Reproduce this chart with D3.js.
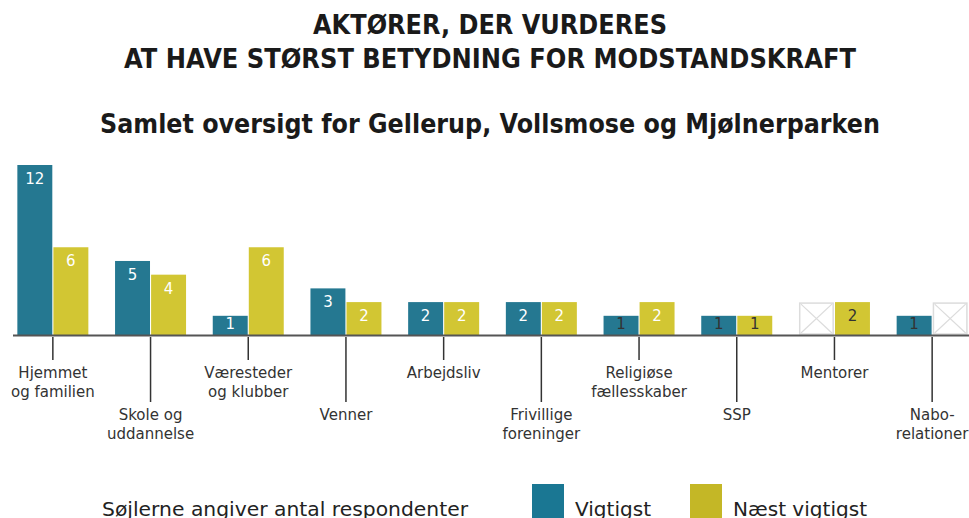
<!DOCTYPE html>
<html>
<head>
<meta charset="utf-8">
<script src="https://cdn.jsdelivr.net/npm/d3@7"></script>
<style>
  body { margin: 0; background: #fff; }
  svg { display: block; font-family: "DejaVu Sans", Verdana, sans-serif; }
</style>
</head>
<body>
<div id="chart"></div>
<script>
// Aktører, der vurderes at have størst betydning for modstandskraft

var categories = ["Hjemmet og familien", "Skole og uddannelse", "Væresteder og klubber", "Venner",
  "Arbejdsliv", "Frivillige foreninger", "Religiøse fællesskaber", "SSP", "Mentorer", "Nabo-relationer"];
// label lines under each tick
var labelLines = [["Hjemmet", "og familien"], ["Skole og", "uddannelse"], ["Væresteder", "og klubber"], ["Venner"],
  ["Arbejdsliv"], ["Frivillige", "foreninger"], ["Religiøse", "fællesskaber"], ["SSP"], ["Mentorer"], ["Nabo-", "relationer"]];
var seriesNames = ["Vigtigst", "Næst vigtigst"];
var vigtigst = [12, 5, 1, 3, 2, 2, 1, 1, 0, 1];
var naestVigtigst = [6, 4, 6, 2, 2, 2, 2, 1, 2, 0];

var colors = { "Vigtigst": "#257891", "Næst vigtigst": "#d2c633" };
// value labels drawn in dark text (category index + series)
var darkLabels = ["6|Vigtigst", "7|Vigtigst", "7|Næst vigtigst", "8|Næst vigtigst", "9|Vigtigst"];

var width = 969, height = 518;
var baseline = 335;

var svg = d3.select("#chart").append("svg")
  .attr("width", width)
  .attr("height", height);

// titles
var title = svg.append("g").attr("class", "title")
  .style("font-weight", "bold")
  .style("fill", "#1a1a1a")
  .attr("text-anchor", "middle");
title.append("text").attr("x", 490).attr("y", 34)
  .style("font-size", "26px")
  .attr("textLength", 354).attr("lengthAdjust", "spacingAndGlyphs")
  .text("AKTØRER, DER VURDERES");
title.append("text").attr("x", 490).attr("y", 68)
  .style("font-size", "26px")
  .attr("textLength", 732).attr("lengthAdjust", "spacingAndGlyphs")
  .text("AT HAVE STØRST BETYDNING FOR MODSTANDSKRAFT");
title.append("text").attr("x", 490).attr("y", 133)
  .style("font-size", "26px")
  .attr("textLength", 780).attr("lengthAdjust", "spacingAndGlyphs")
  .text("Samlet oversigt for Gellerup, Vollsmose og Mjølnerparken");

// scales
var x = d3.scaleBand()
  .domain(categories)
  .range([4, 981])
  .paddingInner(0)
  .paddingOuter(0);

var xSub = d3.scaleBand()
  .domain(seriesNames)
  .range([-35.5, 35.5])
  .paddingInner(0.03);

var y = d3.scaleLinear()
  .domain([-0.4, 12])
  .range([baseline, 165]);

var data = categories.map(function(c, i) {
  return {
    id: c,
    index: i,
    values: [
      { series: seriesNames[0], value: vigtigst[i] },
      { series: seriesNames[1], value: naestVigtigst[i] }
    ]
  };
});

function center(c) { return x(c) + x.bandwidth() / 2; }

var groups = svg.selectAll(".group")
  .data(data)
  .enter()
  .append("g")
  .attr("class", "group")
  .attr("transform", function(d) { return "translate(" + center(d.id) + ",0)"; });

var bars = groups.selectAll(".bar")
  .data(function(d) { return d.values.map(function(v) { return { index: d.index, series: v.series, value: v.value }; }); })
  .enter()
  .append("g")
  .attr("class", "bar");

// real bars
bars.filter(function(d) { return d.value > 0; })
  .append("rect")
  .attr("x", function(d) { return xSub(d.series); })
  .attr("width", xSub.bandwidth())
  .attr("y", function(d) { return y(d.value); })
  .attr("height", function(d) { return baseline - y(d.value); })
  .style("fill", function(d) { return colors[d.series]; });

// empty placeholder boxes for zero answers
var empty = bars.filter(function(d) { return d.value === 0; });
var boxTop = y(2) + 1, boxBottom = baseline - 1;
empty.append("rect")
  .attr("x", function(d) { return xSub(d.series) + 0.75; })
  .attr("width", xSub.bandwidth() - 1.5)
  .attr("y", boxTop)
  .attr("height", boxBottom - boxTop)
  .style("fill", "#fff")
  .style("stroke", "#dcdcdc")
  .style("stroke-width", 1.5);
empty.append("path")
  .attr("d", function(d) {
    var x0 = xSub(d.series) + 2, x1 = xSub(d.series) + xSub.bandwidth() - 2;
    return "M" + x0 + "," + (boxTop + 1) + "L" + x1 + "," + (boxBottom - 1) +
      "M" + x1 + "," + (boxTop + 1) + "L" + x0 + "," + (boxBottom - 1);
  })
  .style("stroke", "#dcdcdc")
  .style("stroke-width", 1.2)
  .style("fill", "none");

// value labels
bars.filter(function(d) { return d.value > 0; })
  .append("text")
  .attr("x", function(d) { return xSub(d.series) + xSub.bandwidth() / 2; })
  .attr("y", function(d) {
    var top = y(d.value), h = baseline - top;
    return top + Math.min(19, h / 2 + 4);
  })
  .attr("text-anchor", "middle")
  .style("font-size", "15px")
  .style("fill", function(d) {
    return darkLabels.indexOf(d.index + "|" + d.series) >= 0 ? "#333" : "#fff";
  })
  .text(function(d) { return d.value; });

// baseline axis
svg.append("line")
  .attr("x1", 13).attr("x2", width)
  .attr("y1", baseline + 0.5).attr("y2", baseline + 0.5)
  .style("stroke", "#555")
  .style("stroke-width", 2);

// ticks and category labels, staggered
var labels = svg.selectAll(".cat")
  .data(data)
  .enter()
  .append("g")
  .attr("class", "cat")
  .attr("transform", function(d) { return "translate(" + center(d.id) + ",0)"; });

labels.append("line")
  .attr("x1", 0).attr("x2", 0)
  .attr("y1", baseline + 2)
  .attr("y2", function(d) { return d.index % 2 === 0 ? 360 : 402; })
  .style("stroke", "#333")
  .style("stroke-width", 1.5);

labels.append("text")
  .attr("text-anchor", "middle")
  .style("font-size", "15px")
  .style("fill", "#333")
  .selectAll("tspan")
  .data(function(d) {
    return labelLines[d.index].map(function(t, k) { return { t: t, k: k, i: d.index }; });
  })
  .enter()
  .append("tspan")
  .attr("x", 0)
  .attr("y", function(d) { return (d.i % 2 === 0 ? 378 : 420) + d.k * 19; })
  .text(function(d) { return d.t; });

// legend
var legend = svg.append("g").attr("class", "legend")
  .style("font-size", "20px")
  .style("fill", "#222");
legend.append("text")
  .attr("x", 102).attr("y", 516)
  .attr("textLength", 366).attr("lengthAdjust", "spacingAndGlyphs")
  .text("Søjlerne angiver antal respondenter");

var legendItems = [
  { name: seriesNames[0], x: 532, fill: "#1a7793", len: 76 },
  { name: seriesNames[1], x: 690, fill: "#c4b726", len: 134 }
];
var li = legend.selectAll(".item")
  .data(legendItems)
  .enter()
  .append("g")
  .attr("class", "item");
li.append("rect")
  .attr("x", function(d) { return d.x; })
  .attr("y", 484)
  .attr("width", 32)
  .attr("height", 40)
  .style("fill", function(d) { return d.fill; });
li.append("text")
  .attr("x", function(d) { return d.x + 43; })
  .attr("y", 516)
  .attr("textLength", function(d) { return d.len; })
  .attr("lengthAdjust", "spacingAndGlyphs")
  .text(function(d) { return d.name; });
</script>
</body>
</html>
